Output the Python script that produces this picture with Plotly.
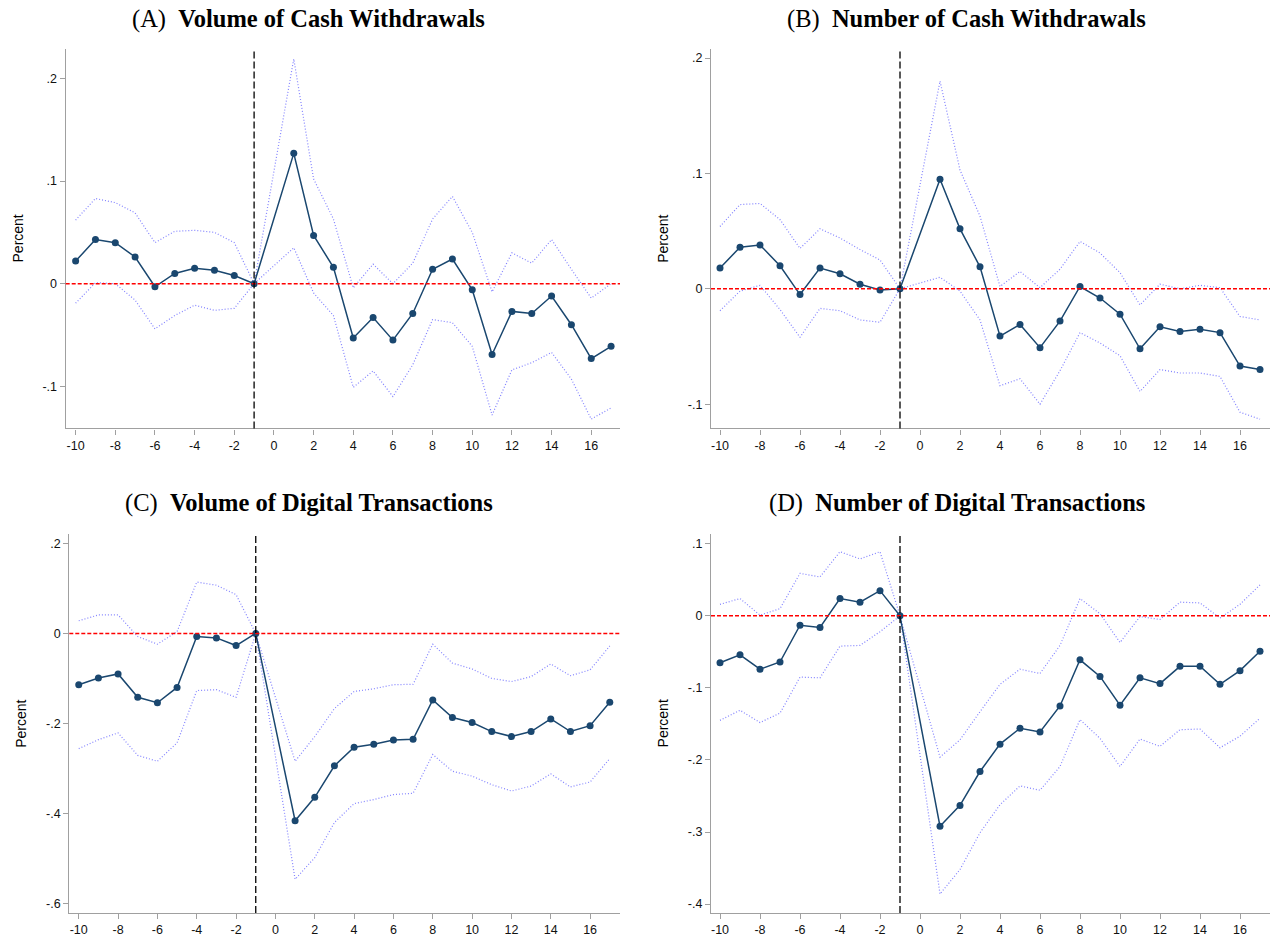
import plotly.graph_objects as go

# event time (no period 0 in the estimates)
periods = [-10, -9, -8, -7, -6, -5, -4, -3, -2, -1,
           1, 2, 3, 4, 5, 6, 7, 8, 9, 10, 11, 12, 13, 14, 15, 16, 17]

# (A) volume of cash withdrawals
a_est = [0.022, 0.043, 0.040, 0.026, -0.003, 0.010, 0.015, 0.013, 0.008, 0.0,
         0.127, 0.047, 0.016, -0.053, -0.033, -0.055, -0.029, 0.014, 0.024, -0.006,
         -0.069, -0.027, -0.029, -0.012, -0.040, -0.073, -0.061]
a_hi = [0.062, 0.083, 0.079, 0.069, 0.040, 0.051, 0.052, 0.050, 0.040, 0.0,
        0.219, 0.102, 0.063, -0.004, 0.019, 0.0, 0.020, 0.063, 0.085, 0.050,
        -0.008, 0.030, 0.020, 0.043, 0.014, -0.014, 0.0]
a_lo = [-0.019, 0.001, 0.0, -0.016, -0.044, -0.031, -0.021, -0.026, -0.024, 0.0,
        0.035, -0.009, -0.031, -0.101, -0.085, -0.110, -0.079, -0.035, -0.038, -0.061,
        -0.128, -0.084, -0.077, -0.067, -0.093, -0.132, -0.121]

# (B) number of cash withdrawals
b_est = [0.018, 0.036, 0.038, 0.020, -0.005, 0.018, 0.013, 0.004, -0.001, 0.0,
         0.095, 0.052, 0.019, -0.041, -0.031, -0.051, -0.028, 0.002, -0.008, -0.022,
         -0.052, -0.033, -0.037, -0.035, -0.038, -0.067, -0.070]
b_hi = [0.054, 0.073, 0.074, 0.060, 0.035, 0.052, 0.044, 0.034, 0.025, 0.0,
        0.180, 0.103, 0.063, 0.002, 0.015, 0.001, 0.017, 0.041, 0.031, 0.014,
        -0.014, 0.004, 0.0, 0.003, 0.001, -0.024, -0.027]
b_lo = [-0.019, -0.002, 0.003, -0.018, -0.042, -0.017, -0.019, -0.027, -0.029, 0.0,
        0.010, -0.002, -0.027, -0.084, -0.078, -0.100, -0.071, -0.038, -0.047, -0.058,
        -0.089, -0.070, -0.073, -0.073, -0.076, -0.107, -0.113]

# (C) volume of digital transactions
c_est = [-0.114, -0.099, -0.090, -0.142, -0.154, -0.120, -0.007, -0.010, -0.027, 0.0,
         -0.416, -0.364, -0.294, -0.253, -0.246, -0.237, -0.235, -0.148, -0.187, -0.198,
         -0.218, -0.229, -0.218, -0.190, -0.218, -0.205, -0.153]
c_hi = [0.028, 0.041, 0.041, -0.007, -0.024, 0.004, 0.114, 0.107, 0.086, 0.0,
        -0.284, -0.229, -0.167, -0.129, -0.123, -0.114, -0.113, -0.024, -0.066, -0.079,
        -0.100, -0.107, -0.096, -0.068, -0.094, -0.081, -0.028]
c_lo = [-0.256, -0.236, -0.221, -0.271, -0.284, -0.243, -0.127, -0.125, -0.142, 0.0,
        -0.546, -0.498, -0.420, -0.378, -0.369, -0.358, -0.355, -0.269, -0.306, -0.317,
        -0.336, -0.350, -0.339, -0.312, -0.341, -0.330, -0.278]

# (D) number of digital transactions
d_est = [-0.065, -0.054, -0.074, -0.064, -0.013, -0.016, 0.024, 0.019, 0.035, 0.0,
         -0.292, -0.263, -0.216, -0.178, -0.156, -0.161, -0.125, -0.061, -0.084, -0.124,
         -0.086, -0.094, -0.070, -0.070, -0.095, -0.076, -0.049]
d_hi = [0.016, 0.024, 0.001, 0.010, 0.059, 0.054, 0.089, 0.079, 0.089, 0.0,
        -0.196, -0.172, -0.133, -0.095, -0.074, -0.080, -0.041, 0.024, 0.003, -0.037,
        -0.001, -0.005, 0.019, 0.018, -0.003, 0.016, 0.043]
d_lo = [-0.145, -0.131, -0.148, -0.135, -0.085, -0.086, -0.042, -0.041, -0.022, 0.0,
        -0.386, -0.352, -0.301, -0.262, -0.236, -0.242, -0.209, -0.144, -0.170, -0.209,
        -0.171, -0.181, -0.158, -0.157, -0.183, -0.167, -0.142]

panel_letters = ["(A)", "(B)", "(C)", "(D)"]
panel_names = ["Volume of Cash Withdrawals", "Number of Cash Withdrawals",
               "Volume of Digital Transactions", "Number of Digital Transactions"]

x_ticks = [-10, -8, -6, -4, -2, 0, 2, 4, 6, 8, 10, 12, 14, 16]
y_ticks = [[-0.1, 0, 0.1, 0.2], [-0.1, 0, 0.1, 0.2],
           [-0.6, -0.4, -0.2, 0, 0.2], [-0.4, -0.3, -0.2, -0.1, 0, 0.1]]
y_ticktext = [["-.1", "0", ".1", ".2"], ["-.1", "0", ".1", ".2"],
              ["-.6", "-.4", "-.2", "0", ".2"], ["-.4", "-.3", "-.2", "-.1", "0", ".1"]]

series = [(a_est, a_lo, a_hi), (b_est, b_lo, b_hi), (c_est, c_lo, c_hi), (d_est, d_lo, d_hi)]

# panel boxes in pixels on the 1270x937 canvas
W, H = 1270, 937
x_dom = [(65.7, 620.0), (711, 1270), (69.3, 620.0), (711, 1270)]
y_dom = [(49.3, 429.3), (49.3, 429.3), (535, 915), (535, 915)]
x_rng = [(-10.5, 17.45), (-10.45, 17.5), (-10.48, 17.52), (-10.45, 17.5)]
y_rng = [(-0.141, 0.2285), (-0.121, 0.2077), (-0.621, 0.221), (-0.4124, 0.1138)]
title_x = [308, 966, 309, 957]
title_y = [19, 19, 504, 504]

NAVY = "#1a476f"
CI = "rgba(100,100,255,0.8)"
AXIS = "#a0a0a0"

fig = go.Figure()
annotations = []
shapes = []

for i, (est, lo, hi) in enumerate(series):
    k = "" if i == 0 else str(i + 1)
    xa, ya = "x" + k, "y" + k
    for ci in (hi, lo):
        fig.add_trace(go.Scatter(x=periods, y=ci, mode="lines", xaxis=xa, yaxis=ya,
                                 line=dict(color=CI, width=1.2, dash="1px,2px"),
                                 showlegend=False, hoverinfo="skip"))
    fig.add_trace(go.Scatter(x=periods, y=est, mode="lines+markers", xaxis=xa, yaxis=ya,
                             line=dict(color=NAVY, width=1.5),
                             marker=dict(color=NAVY, size=7),
                             showlegend=False))

    x0, x1 = x_dom[i]
    y0, y1 = y_dom[i]
    fig.layout["xaxis" + k] = dict(
        domain=[x0 / W, x1 / W], range=list(x_rng[i]), anchor=ya,
        tickvals=x_ticks, ticktext=[str(t) for t in x_ticks],
        showgrid=False, zeroline=False, showline=True, linecolor=AXIS, linewidth=1.3,
        ticks="outside", ticklen=5, tickcolor=AXIS, tickwidth=1.3,
        tickfont=dict(family="Liberation Sans, Arial", size=12.5, color="#111"),
    )
    fig.layout["yaxis" + k] = dict(
        domain=[1 - y1 / H, 1 - y0 / H], range=list(y_rng[i]), anchor=xa,
        tickvals=y_ticks[i], ticktext=y_ticktext[i],
        showgrid=False, zeroline=False, showline=True, linecolor=AXIS, linewidth=1.3,
        ticks="outside", ticklen=5, tickcolor=AXIS, tickwidth=1.3,
        tickfont=dict(family="Liberation Sans, Arial", size=12.5, color="#111"),
    )

    # zero line and treatment line
    shapes.append(dict(type="line", xref=xa + " domain", yref=ya, x0=0, x1=1, y0=0, y1=0,
                       line=dict(color="red", width=1.5, dash="4px,2px")))
    shapes.append(dict(type="line", xref=xa, yref=ya + " domain", x0=-1, x1=-1, y0=0, y1=1,
                       line=dict(color="black", width=1.3, dash="7px,3px")))

    annotations.append(dict(
        text=panel_letters[i] + "\u2002<b>" + panel_names[i] + "</b>",
        x=title_x[i] / W, y=1 - title_y[i] / H, xref="paper", yref="paper",
        xanchor="center", yanchor="middle", showarrow=False,
        font=dict(family="Liberation Serif, Times New Roman", size=24.5, color="black"),
    ))
    annotations.append(dict(
        text="Percent", textangle=-90,
        x=(x0 - 48) / W, y=1 - (y0 + y1) / 2 / H, xref="paper", yref="paper",
        xanchor="center", yanchor="middle", showarrow=False,
        font=dict(family="Liberation Sans, Arial", size=14, color="black"),
    ))

fig.update_layout(
    width=W, height=H,
    margin=dict(l=0, r=0, t=0, b=0),
    paper_bgcolor="white", plot_bgcolor="white",
    shapes=shapes, annotations=annotations,
    showlegend=False,
)

# drop the default 8px page margin so the figure sits flush in the window
fig.write_html("out.html", config={"displayModeBar": False},
               post_script="document.body.style.margin='0';")
